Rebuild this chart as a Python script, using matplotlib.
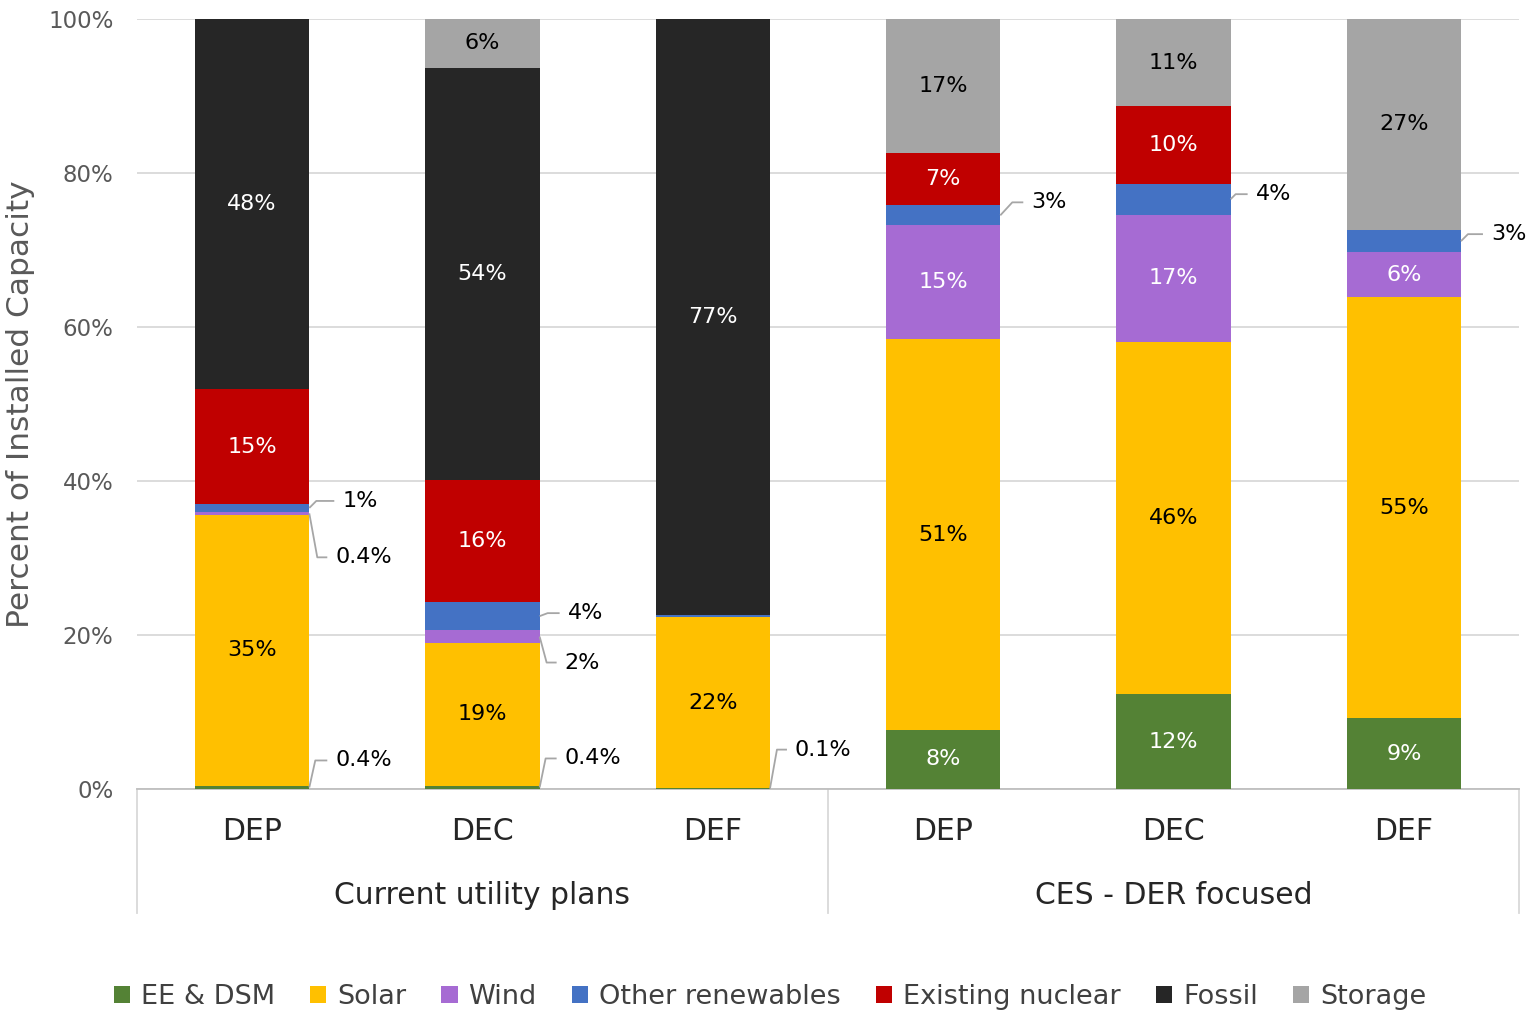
import matplotlib
matplotlib.use("Agg")
import matplotlib.pyplot as plt
from matplotlib.patches import Patch
import numpy as np

plt.rcParams['font.family'] = ['DejaVu Sans']

# ---------------- data ----------------
bars = ["DEP", "DEC", "DEF", "DEP", "DEC", "DEF"]
groups = ["Current utility plans", "CES - DER focused"]
series = ["EE & DSM", "Solar", "Wind", "Other renewables", "Existing nuclear", "Fossil", "Storage"]
ee_dsm = [0.4, 0.4, 0.1, 7.7, 12.3, 9.2]
solar = [35.2, 18.6, 22.2, 50.7, 45.7, 54.7]
wind = [0.4, 1.6, 0.0, 14.8, 16.6, 5.8]
other_ren = [1.0, 3.7, 0.3, 2.6, 4.0, 2.9]
nuclear = [14.9, 15.8, 0.0, 6.8, 10.1, 0.0]
fossil = [48.1, 53.6, 77.4, 0.0, 0.0, 0.0]
storage = [0.0, 6.3, 0.0, 17.4, 11.3, 27.4]
yticks = [0, 20, 40, 60, 80, 100]

colors = ["#548235", "#FFC000", "#A66BD3", "#4472C4", "#C00000", "#262626", "#A5A5A5"]
text_colors = ["white", "black", "white", "white", "white", "white", "black"]

# callouts: (bar index, series index, elbow dx px, elbow dy px, hline px)
callouts = [
    (0, 3, 7, -7, 18),
    (0, 2, 8, 44, 10),
    (0, 0, 6, -27, 12),
    (1, 3, 8, -3, 12),
    (1, 2, 7, 26, 10),
    (1, 0, 6, -29, 11),
    (2, 0, 7, -39, 10),
    (3, 3, 12, -13, 11),
    (4, 3, 5, -5, 12),
    (5, 3, 7, -7, 15),
]

data = [ee_dsm, solar, wind, other_ren, nuclear, fossil, storage]

W, H = 1535, 1025
fig = plt.figure(figsize=(W / 100, H / 100), dpi=100)
ax_l, ax_r, ax_b, ax_t = 137, 1519, 789, 19
ax = fig.add_axes([ax_l / W, 1 - ax_b / H, (ax_r - ax_l) / W, (ax_b - ax_t) / H])

x = np.arange(len(bars))
width = 0.496
ax.set_xlim(-0.5, 5.5)
ax.set_ylim(0, 100)

px_per_x = (ax_r - ax_l) / 6.0
px_per_y = (ax_b - ax_t) / 100.0

bottoms = np.zeros(len(bars))
for si, vals in enumerate(data):
    vals = np.array(vals)
    ax.bar(x, vals, width, bottom=bottoms, color=colors[si], zorder=3, linewidth=0)
    bottoms = bottoms + vals

# inside labels
called = {(b, s) for b, s, *_ in callouts}
cum = np.zeros(len(bars))
mids = {}
for si, vals in enumerate(data):
    for bi, v in enumerate(vals):
        mids[(bi, si)] = cum[bi] + v / 2
        if v >= 5 and (bi, si) not in called:
            ax.text(bi, cum[bi] + v / 2, f"{v:.0f}%", ha="center", va="center",
                    color=text_colors[si], fontsize=16, zorder=5)
    cum = cum + np.array(vals)

def fmt(v):
    return f"{v:.1f}%" if v < 1 else f"{v:.0f}%"

for bi, si, dx, dy, hl in callouts:
    v = data[si][bi]
    x0 = bi + width / 2
    y0 = mids[(bi, si)]
    x1 = x0 + dx / px_per_x
    y1 = y0 - dy / px_per_y
    x2 = x1 + hl / px_per_x
    ax.plot([x0, x1, x2], [y0, y1, y1], color="#A6A6A6", lw=1.3, zorder=4,
            clip_on=False, solid_capstyle="butt")
    ax.text(x2 + 8 / px_per_x, y1, fmt(v), ha="left", va="center", fontsize=16,
            color="black", zorder=5, clip_on=False)

# axes styling
for s in ["top", "right", "left"]:
    ax.spines[s].set_visible(False)
ax.spines["bottom"].set_color("#BFBFBF")
ax.spines["bottom"].set_linewidth(1.3)
ax.set_yticks(yticks)
ax.set_yticklabels([f"{t}%" for t in yticks])
ax.tick_params(axis="y", length=0, labelsize=16.5, labelcolor="#595959", pad=17)
ax.set_xticks([])
ax.yaxis.grid(True, color="#D9D9D9", lw=1.3, zorder=0)
ax.set_axisbelow(True)
ax.set_ylabel("Percent of Installed Capacity", fontsize=22.5, color="#595959", va="center")
ax.yaxis.set_label_coords((21 - ax_l) / (ax_r - ax_l), 0.5)

# category axis
sep_bottom = (ax_b - 913) / px_per_y
for xs in [-0.5, 2.5, 5.5]:
    ax.plot([xs, xs], [0, sep_bottom], color="#D9D9D9", lw=1.3, clip_on=False)
cat_y = (ax_b - 832) / px_per_y
grp_y = (ax_b - 895) / px_per_y
for bi, name in enumerate(bars):
    ax.text(bi, cat_y, name, ha="center", va="center", fontsize=21.5, color="#262626", clip_on=False)
for gi, g in enumerate(groups):
    ax.text(1 + 3 * gi, grp_y, g, ha="center", va="center", fontsize=21.5, color="#262626", clip_on=False)

handles = [Patch(facecolor=c, edgecolor="none") for c in colors]
fig.legend(handles, series, loc="center", bbox_to_anchor=(0.5016, 1 - 997 / H), ncol=7,
           frameon=False, fontsize=19.5, handlelength=0.6, handleheight=0.6,
           handletextpad=0.4, columnspacing=1.3, labelcolor="#404040")

fig.savefig("out.png", dpi=100)
